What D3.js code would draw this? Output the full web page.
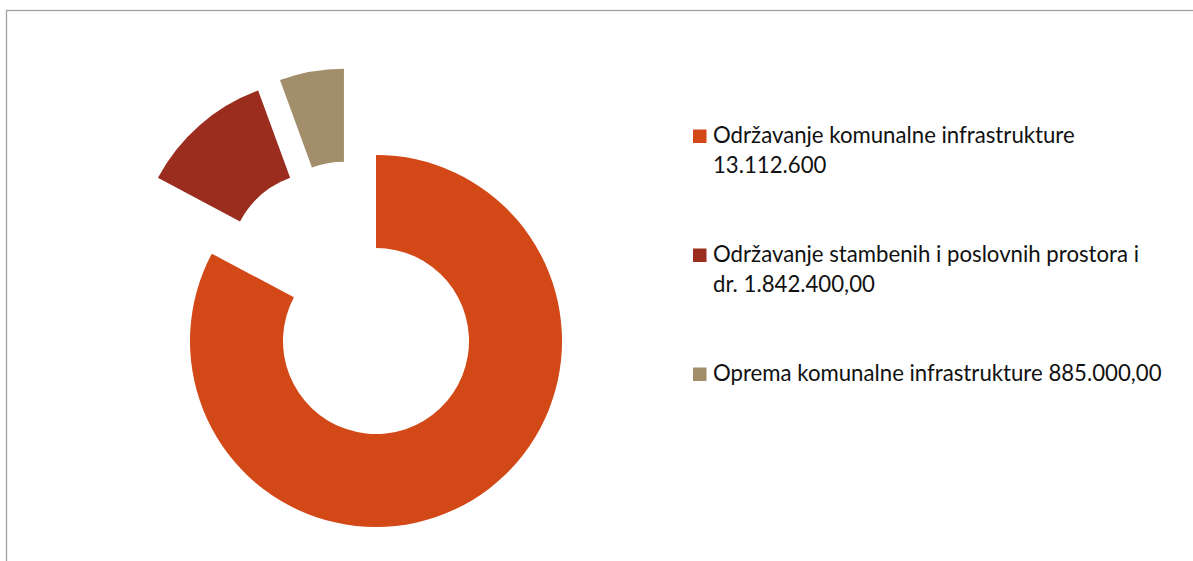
<!DOCTYPE html>
<html lang="hr">
  <head>
    <meta charset="utf-8">
    <title>Rashodi</title>
    <script src="https://d3js.org/d3.v7.min.js"></script>
    <style>
      body { margin: 0; background: #fff; }
      svg { display: block; }
    </style>
  </head>
  <body>
    <div id="chart"></div>

    <script type="text/javascript">
      // data
      let categories = [
        ['Održavanje komunalne infrastrukture', '13.112.600'],
        ['Održavanje stambenih i poslovnih prostora i', 'dr. 1.842.400,00'],
        ['Oprema komunalne infrastrukture 885.000,00']
      ];
      let values = [13112600, 1842400, 885000];
      let colors = ['#D34817', '#9B2D1F', '#A28E6A'];
      // how far each slice is pulled out, and in which direction (degrees, 0 = up)
      let explodeDist = [0, 93, 92];
      let explodeDir = [null, 324.6, 339.6];

      let width = 1193, height = 561;
      let cx = 376, cy = 341;
      let outerR = 186, innerR = 93;

      let svg = d3.select('#chart').append('svg')
        .attr('width', width)
        .attr('height', height);

      // chart area border (only top and left show inside the window)
      svg.append('rect')
        .attr('x', 6.5).attr('y', 10.5)
        .attr('width', 1300).attr('height', 700)
        .attr('fill', 'none')
        .attr('stroke', '#a0a0a0')
        .attr('stroke-width', 1.3);

      let pie = d3.pie().sort(null).value(d => d);
      let arc = d3.arc().innerRadius(innerR).outerRadius(outerR);

      svg.append('g')
        .attr('transform', 'translate(' + cx + ',' + cy + ')')
        .selectAll('path')
        .data(pie(values))
        .join('path')
        .attr('d', arc)
        .attr('fill', (d, i) => colors[i])
        .attr('transform', (d, i) => {
          if (!explodeDist[i]) return null;
          let a = explodeDir[i] * Math.PI / 180;
          return 'translate(' + (Math.sin(a) * explodeDist[i]) + ',' + (-Math.cos(a) * explodeDist[i]) + ')';
        });

      // legend
      let legX = 693, legY = 143, itemStep = 119, lineH = 29.5;
      let legend = svg.append('g')
        .attr('font-family', 'Lato, "Open Sans", sans-serif')
        .attr('font-size', 22.2)
        .attr('fill', '#111');

      categories.forEach((lines, i) => {
        let y0 = legY + i * itemStep;
        legend.append('rect')
          .attr('x', legX).attr('y', y0 - 13.5)
          .attr('width', 13.5).attr('height', 13.5)
          .attr('fill', colors[i]);

        legend.append('text')
          .selectAll('tspan')
          .data(lines)
          .join('tspan')
          .attr('x', legX + 20)
          .attr('y', (d, j) => y0 + j * lineH)
          .text(d => d);
      });
    </script>
  </body>
</html>
